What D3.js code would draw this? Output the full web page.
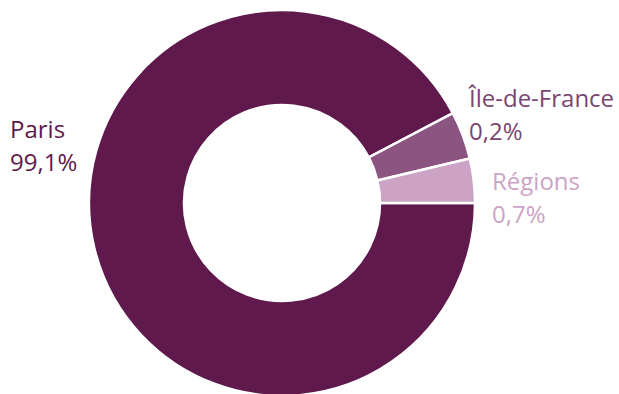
<!DOCTYPE html>
<html>
<head>
<meta charset="utf-8">
<script src="https://cdn.jsdelivr.net/npm/d3@7"></script>
<style>
  body { margin: 0; background: #fff; }
  text { font-family: "Open Sans", "Noto Sans", sans-serif; }
</style>
</head>
<body>
<svg></svg>
<script>
// data

var regions = ['Paris', 'Île-de-France', 'Régions'];
var shareLabels = ['99,1%', '0,2%', '0,7%'];
var arcWeights = [92.3, 4.0, 3.7]; // slice sizes as drawn in the picture
var colors = ['#5f194c', '#8c5581', '#cda3c5'];
var textColors = ['#5f194c', '#7a4670', '#cda3c5'];

// svg measurements
var width = 619,
	height = 394,
	cx = 282,
	cy = 203,
	outerR = 193,
	innerR = 98;

var svg = d3.select('svg')
	.attr('width', width)
	.attr('height', height);

var data = regions.map(function(r, i) {
	return { name: r, label: shareLabels[i], weight: arcWeights[i], color: colors[i], text: textColors[i] };
});

var pie = d3.pie()
	.sort(null)
	.value(d => d.weight)
	.startAngle(Math.PI / 2)
	.endAngle(Math.PI / 2 + 2 * Math.PI);

var arc = d3.arc()
	.innerRadius(innerR)
	.outerRadius(outerR);

var g = svg.append('g')
	.attr('transform', 'translate(' + cx + ',' + cy + ')');

var arcs = pie(data);

g.selectAll('path')
	.data(arcs)
	.enter()
	.append('path')
		.attr('d', arc)
		.attr('fill', d => d.data.color)
		.attr('stroke', '#fff')
		.attr('stroke-width', 2.5);

// labels, placed next to their slice (Paris sits to the left)
var labelOffsets = {
	'Paris': { x: 10, y: 138, anchor: 'start' },
	'Île-de-France': { x: 469, y: 107, anchor: 'start' },
	'Régions': { x: 492, y: 190, anchor: 'start' }
};

var labels = svg.selectAll('.lbl')
	.data(arcs)
	.enter()
	.append('text')
		.attr('class', 'lbl')
		.attr('x', d => labelOffsets[d.data.name].x)
		.attr('y', d => labelOffsets[d.data.name].y)
		.attr('fill', d => d.data.text)
		.style('font-size', '24px')
		.style('text-anchor', d => labelOffsets[d.data.name].anchor);

labels.append('tspan')
	.text(d => d.data.name);

labels.append('tspan')
	.attr('x', d => labelOffsets[d.data.name].x)
	.attr('dy', 33)
	.text(d => d.data.label);
</script>
</body>
</html>
